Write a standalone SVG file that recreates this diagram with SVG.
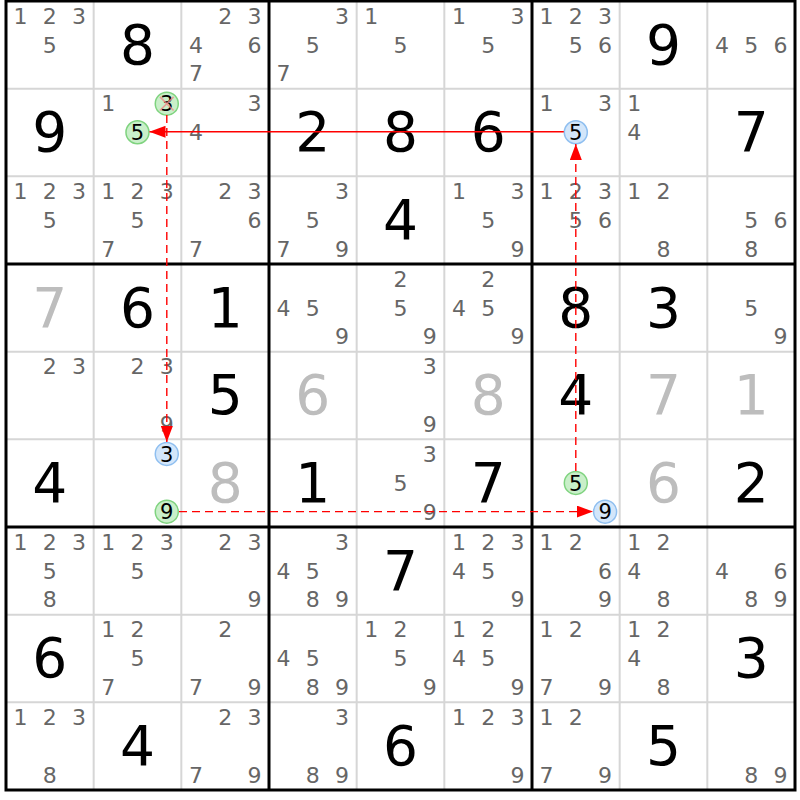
<svg xmlns="http://www.w3.org/2000/svg" width="800" height="800" viewBox="0 0 800 800">
<style>
text{font-family:"DejaVu Sans",Verdana,sans-serif;text-anchor:middle}
.c{font-size:22px;fill:#666}
.h{font-size:21px;fill:#000}
.g{font-size:55px;fill:#000}
.p{font-size:55px;fill:#bdbdbd}
.gc{fill:#c9efc9;stroke:#7fd37f;stroke-width:1.5}
.bc{fill:#d3e6fa;stroke:#8fbff0;stroke-width:1.5}
.thin{stroke:#d6d6d6;stroke-width:2}
.thick{stroke:#000;stroke-width:3;fill:none}
.ar{stroke:#f00;stroke-width:1.4;fill:none}
.da{stroke-dasharray:8,5}
</style>
<defs>
<marker id="ah" viewBox="0 0 16 12" markerUnits="userSpaceOnUse" markerWidth="16" markerHeight="12" refX="16" refY="6" orient="auto"><path d="M0,0 L16,6 L0,12 z" fill="#f00"/></marker>
</defs>
<rect x="0" y="0" width="800" height="800" fill="#fff"/>
<g id="grid">
<path class="thin" d="M93.67,1V790M181.33,1V790M356.67,1V790M444.33,1V790M619.67,1V790M707.33,1V790M6,88.67H795M6,176.33H795M6,351.67H795M6,439.33H795M6,614.67H795M6,702.33H795"/>
<path class="thick" d="M269,1V790M532,1V790M6,264H795M6,527H795"/>
<rect class="thick" x="6" y="1" width="789" height="789"/>
</g>
<g id="cells">
<!-- Row 1 -->
<g id="r1c1" transform="translate(6,1)"><text class="c" x="14.6" y="22.6">1</text><text class="c" x="43.8" y="22.6">2</text><text class="c" x="73.1" y="22.6">3</text><text class="c" x="43.8" y="51.5">5</text></g>
<g id="r1c2" transform="translate(93.67,1)"><text class="g" x="43.8" y="62.5">8</text></g>
<g id="r1c3" transform="translate(181.33,1)"><text class="c" x="43.8" y="22.6">2</text><text class="c" x="73.1" y="22.6">3</text><text class="c" x="14.6" y="51.5">4</text><text class="c" x="73.1" y="51.5">6</text><text class="c" x="14.6" y="80.3">7</text></g>
<g id="r1c4" transform="translate(269,1)"><text class="c" x="73.1" y="22.6">3</text><text class="c" x="43.8" y="51.5">5</text><text class="c" x="14.6" y="80.3">7</text></g>
<g id="r1c5" transform="translate(356.67,1)"><text class="c" x="14.6" y="22.6">1</text><text class="c" x="43.8" y="51.5">5</text></g>
<g id="r1c6" transform="translate(444.33,1)"><text class="c" x="14.6" y="22.6">1</text><text class="c" x="73.1" y="22.6">3</text><text class="c" x="43.8" y="51.5">5</text></g>
<g id="r1c7" transform="translate(532,1)"><text class="c" x="14.6" y="22.6">1</text><text class="c" x="43.8" y="22.6">2</text><text class="c" x="73.1" y="22.6">3</text><text class="c" x="43.8" y="51.5">5</text><text class="c" x="73.1" y="51.5">6</text></g>
<g id="r1c8" transform="translate(619.67,1)"><text class="g" x="43.8" y="62.5">9</text></g>
<g id="r1c9" transform="translate(707.33,1)"><text class="c" x="14.6" y="51.5">4</text><text class="c" x="43.8" y="51.5">5</text><text class="c" x="73.1" y="51.5">6</text></g>
<!-- Row 2 -->
<g id="r2c1" transform="translate(6,88.67)"><text class="g" x="43.8" y="62.5">9</text></g>
<g id="r2c2" transform="translate(93.67,88.67)"><text class="c" x="14.6" y="22.6">1</text><circle class="gc" cx="73.1" cy="15" r="11.5"/><text class="h" x="73.1" y="22.6">3</text><path d="M66.3,8.2L79.9,21.8M79.9,8.2L66.3,21.8" stroke="#f08a8a" stroke-width="1.6" opacity="0.8"/><circle class="gc" cx="43.8" cy="43.6" r="11.5"/><text class="h" x="43.8" y="51.3">5</text></g>
<g id="r2c3" transform="translate(181.33,88.67)"><text class="c" x="73.1" y="22.6">3</text><text class="c" x="14.6" y="51.5">4</text></g>
<g id="r2c4" transform="translate(269,88.67)"><text class="g" x="43.8" y="62.5">2</text></g>
<g id="r2c5" transform="translate(356.67,88.67)"><text class="g" x="43.8" y="62.5">8</text></g>
<g id="r2c6" transform="translate(444.33,88.67)"><text class="g" x="43.8" y="62.5">6</text></g>
<g id="r2c7" transform="translate(532,88.67)"><text class="c" x="14.6" y="22.6">1</text><text class="c" x="73.1" y="22.6">3</text><circle class="bc" cx="43.8" cy="43.6" r="11.5"/><text class="h" x="43.8" y="51.3">5</text></g>
<g id="r2c8" transform="translate(619.67,88.67)"><text class="c" x="14.6" y="22.6">1</text><text class="c" x="14.6" y="51.5">4</text></g>
<g id="r2c9" transform="translate(707.33,88.67)"><text class="g" x="43.8" y="62.5">7</text></g>
<!-- Row 3 -->
<g id="r3c1" transform="translate(6,176.33)"><text class="c" x="14.6" y="22.6">1</text><text class="c" x="43.8" y="22.6">2</text><text class="c" x="73.1" y="22.6">3</text><text class="c" x="43.8" y="51.5">5</text></g>
<g id="r3c2" transform="translate(93.67,176.33)"><text class="c" x="14.6" y="22.6">1</text><text class="c" x="43.8" y="22.6">2</text><text class="c" x="73.1" y="22.6">3</text><text class="c" x="43.8" y="51.5">5</text><text class="c" x="14.6" y="80.3">7</text></g>
<g id="r3c3" transform="translate(181.33,176.33)"><text class="c" x="43.8" y="22.6">2</text><text class="c" x="73.1" y="22.6">3</text><text class="c" x="73.1" y="51.5">6</text><text class="c" x="14.6" y="80.3">7</text></g>
<g id="r3c4" transform="translate(269,176.33)"><text class="c" x="73.1" y="22.6">3</text><text class="c" x="43.8" y="51.5">5</text><text class="c" x="14.6" y="80.3">7</text><text class="c" x="73.1" y="80.3">9</text></g>
<g id="r3c5" transform="translate(356.67,176.33)"><text class="g" x="43.8" y="62.5">4</text></g>
<g id="r3c6" transform="translate(444.33,176.33)"><text class="c" x="14.6" y="22.6">1</text><text class="c" x="73.1" y="22.6">3</text><text class="c" x="43.8" y="51.5">5</text><text class="c" x="73.1" y="80.3">9</text></g>
<g id="r3c7" transform="translate(532,176.33)"><text class="c" x="14.6" y="22.6">1</text><text class="c" x="43.8" y="22.6">2</text><text class="c" x="73.1" y="22.6">3</text><text class="c" x="43.8" y="51.5">5</text><text class="c" x="73.1" y="51.5">6</text></g>
<g id="r3c8" transform="translate(619.67,176.33)"><text class="c" x="14.6" y="22.6">1</text><text class="c" x="43.8" y="22.6">2</text><text class="c" x="43.8" y="80.3">8</text></g>
<g id="r3c9" transform="translate(707.33,176.33)"><text class="c" x="43.8" y="51.5">5</text><text class="c" x="73.1" y="51.5">6</text><text class="c" x="43.8" y="80.3">8</text></g>
<!-- Row 4 -->
<g id="r4c1" transform="translate(6,264)"><text class="p" x="43.8" y="62.5">7</text></g>
<g id="r4c2" transform="translate(93.67,264)"><text class="g" x="43.8" y="62.5">6</text></g>
<g id="r4c3" transform="translate(181.33,264)"><text class="g" x="43.8" y="62.5">1</text></g>
<g id="r4c4" transform="translate(269,264)"><text class="c" x="14.6" y="51.5">4</text><text class="c" x="43.8" y="51.5">5</text><text class="c" x="73.1" y="80.3">9</text></g>
<g id="r4c5" transform="translate(356.67,264)"><text class="c" x="43.8" y="22.6">2</text><text class="c" x="43.8" y="51.5">5</text><text class="c" x="73.1" y="80.3">9</text></g>
<g id="r4c6" transform="translate(444.33,264)"><text class="c" x="43.8" y="22.6">2</text><text class="c" x="14.6" y="51.5">4</text><text class="c" x="43.8" y="51.5">5</text><text class="c" x="73.1" y="80.3">9</text></g>
<g id="r4c7" transform="translate(532,264)"><text class="g" x="43.8" y="62.5">8</text></g>
<g id="r4c8" transform="translate(619.67,264)"><text class="g" x="43.8" y="62.5">3</text></g>
<g id="r4c9" transform="translate(707.33,264)"><text class="c" x="43.8" y="51.5">5</text><text class="c" x="73.1" y="80.3">9</text></g>
<!-- Row 5 -->
<g id="r5c1" transform="translate(6,351.67)"><text class="c" x="43.8" y="22.6">2</text><text class="c" x="73.1" y="22.6">3</text></g>
<g id="r5c2" transform="translate(93.67,351.67)"><text class="c" x="43.8" y="22.6">2</text><text class="c" x="73.1" y="22.6">3</text><text class="c" x="73.1" y="80.3">9</text></g>
<g id="r5c3" transform="translate(181.33,351.67)"><text class="g" x="43.8" y="62.5">5</text></g>
<g id="r5c4" transform="translate(269,351.67)"><text class="p" x="43.8" y="62.5">6</text></g>
<g id="r5c5" transform="translate(356.67,351.67)"><text class="c" x="73.1" y="22.6">3</text><text class="c" x="73.1" y="80.3">9</text></g>
<g id="r5c6" transform="translate(444.33,351.67)"><text class="p" x="43.8" y="62.5">8</text></g>
<g id="r5c7" transform="translate(532,351.67)"><text class="g" x="43.8" y="62.5">4</text></g>
<g id="r5c8" transform="translate(619.67,351.67)"><text class="p" x="43.8" y="62.5">7</text></g>
<g id="r5c9" transform="translate(707.33,351.67)"><text class="p" x="43.8" y="62.5">1</text></g>
<!-- Row 6 -->
<g id="r6c1" transform="translate(6,439.33)"><text class="g" x="43.8" y="62.5">4</text></g>
<g id="r6c2" transform="translate(93.67,439.33)"><circle class="bc" cx="73.1" cy="14.6" r="11.5"/><text class="h" x="73.1" y="22.2">3</text><circle class="gc" cx="73.1" cy="72.3" r="11.5"/><text class="h" x="73.1" y="79.9">9</text></g>
<g id="r6c3" transform="translate(181.33,439.33)"><text class="p" x="43.8" y="62.5">8</text></g>
<g id="r6c4" transform="translate(269,439.33)"><text class="g" x="43.8" y="62.5">1</text></g>
<g id="r6c5" transform="translate(356.67,439.33)"><text class="c" x="73.1" y="22.6">3</text><text class="c" x="43.8" y="51.5">5</text><text class="c" x="73.1" y="80.3">9</text></g>
<g id="r6c6" transform="translate(444.33,439.33)"><text class="g" x="43.8" y="62.5">7</text></g>
<g id="r6c7" transform="translate(532,439.33)"><circle class="gc" cx="43.8" cy="43.6" r="11.5"/><text class="h" x="43.8" y="51.3">5</text><circle class="bc" cx="73.1" cy="72.3" r="11.5"/><text class="h" x="73.1" y="79.9">9</text></g>
<g id="r6c8" transform="translate(619.67,439.33)"><text class="p" x="43.8" y="62.5">6</text></g>
<g id="r6c9" transform="translate(707.33,439.33)"><text class="g" x="43.8" y="62.5">2</text></g>
<!-- Row 7 -->
<g id="r7c1" transform="translate(6,527)"><text class="c" x="14.6" y="22.6">1</text><text class="c" x="43.8" y="22.6">2</text><text class="c" x="73.1" y="22.6">3</text><text class="c" x="43.8" y="51.5">5</text><text class="c" x="43.8" y="80.3">8</text></g>
<g id="r7c2" transform="translate(93.67,527)"><text class="c" x="14.6" y="22.6">1</text><text class="c" x="43.8" y="22.6">2</text><text class="c" x="73.1" y="22.6">3</text><text class="c" x="43.8" y="51.5">5</text></g>
<g id="r7c3" transform="translate(181.33,527)"><text class="c" x="43.8" y="22.6">2</text><text class="c" x="73.1" y="22.6">3</text><text class="c" x="73.1" y="80.3">9</text></g>
<g id="r7c4" transform="translate(269,527)"><text class="c" x="73.1" y="22.6">3</text><text class="c" x="14.6" y="51.5">4</text><text class="c" x="43.8" y="51.5">5</text><text class="c" x="43.8" y="80.3">8</text><text class="c" x="73.1" y="80.3">9</text></g>
<g id="r7c5" transform="translate(356.67,527)"><text class="g" x="43.8" y="62.5">7</text></g>
<g id="r7c6" transform="translate(444.33,527)"><text class="c" x="14.6" y="22.6">1</text><text class="c" x="43.8" y="22.6">2</text><text class="c" x="73.1" y="22.6">3</text><text class="c" x="14.6" y="51.5">4</text><text class="c" x="43.8" y="51.5">5</text><text class="c" x="73.1" y="80.3">9</text></g>
<g id="r7c7" transform="translate(532,527)"><text class="c" x="14.6" y="22.6">1</text><text class="c" x="43.8" y="22.6">2</text><text class="c" x="73.1" y="51.5">6</text><text class="c" x="73.1" y="80.3">9</text></g>
<g id="r7c8" transform="translate(619.67,527)"><text class="c" x="14.6" y="22.6">1</text><text class="c" x="43.8" y="22.6">2</text><text class="c" x="14.6" y="51.5">4</text><text class="c" x="43.8" y="80.3">8</text></g>
<g id="r7c9" transform="translate(707.33,527)"><text class="c" x="14.6" y="51.5">4</text><text class="c" x="73.1" y="51.5">6</text><text class="c" x="43.8" y="80.3">8</text><text class="c" x="73.1" y="80.3">9</text></g>
<!-- Row 8 -->
<g id="r8c1" transform="translate(6,614.67)"><text class="g" x="43.8" y="62.5">6</text></g>
<g id="r8c2" transform="translate(93.67,614.67)"><text class="c" x="14.6" y="22.6">1</text><text class="c" x="43.8" y="22.6">2</text><text class="c" x="43.8" y="51.5">5</text><text class="c" x="14.6" y="80.3">7</text></g>
<g id="r8c3" transform="translate(181.33,614.67)"><text class="c" x="43.8" y="22.6">2</text><text class="c" x="14.6" y="80.3">7</text><text class="c" x="73.1" y="80.3">9</text></g>
<g id="r8c4" transform="translate(269,614.67)"><text class="c" x="14.6" y="51.5">4</text><text class="c" x="43.8" y="51.5">5</text><text class="c" x="43.8" y="80.3">8</text><text class="c" x="73.1" y="80.3">9</text></g>
<g id="r8c5" transform="translate(356.67,614.67)"><text class="c" x="14.6" y="22.6">1</text><text class="c" x="43.8" y="22.6">2</text><text class="c" x="43.8" y="51.5">5</text><text class="c" x="73.1" y="80.3">9</text></g>
<g id="r8c6" transform="translate(444.33,614.67)"><text class="c" x="14.6" y="22.6">1</text><text class="c" x="43.8" y="22.6">2</text><text class="c" x="14.6" y="51.5">4</text><text class="c" x="43.8" y="51.5">5</text><text class="c" x="73.1" y="80.3">9</text></g>
<g id="r8c7" transform="translate(532,614.67)"><text class="c" x="14.6" y="22.6">1</text><text class="c" x="43.8" y="22.6">2</text><text class="c" x="14.6" y="80.3">7</text><text class="c" x="73.1" y="80.3">9</text></g>
<g id="r8c8" transform="translate(619.67,614.67)"><text class="c" x="14.6" y="22.6">1</text><text class="c" x="43.8" y="22.6">2</text><text class="c" x="14.6" y="51.5">4</text><text class="c" x="43.8" y="80.3">8</text></g>
<g id="r8c9" transform="translate(707.33,614.67)"><text class="g" x="43.8" y="62.5">3</text></g>
<!-- Row 9 -->
<g id="r9c1" transform="translate(6,702.33)"><text class="c" x="14.6" y="22.6">1</text><text class="c" x="43.8" y="22.6">2</text><text class="c" x="73.1" y="22.6">3</text><text class="c" x="43.8" y="80.3">8</text></g>
<g id="r9c2" transform="translate(93.67,702.33)"><text class="g" x="43.8" y="62.5">4</text></g>
<g id="r9c3" transform="translate(181.33,702.33)"><text class="c" x="43.8" y="22.6">2</text><text class="c" x="73.1" y="22.6">3</text><text class="c" x="14.6" y="80.3">7</text><text class="c" x="73.1" y="80.3">9</text></g>
<g id="r9c4" transform="translate(269,702.33)"><text class="c" x="73.1" y="22.6">3</text><text class="c" x="43.8" y="80.3">8</text><text class="c" x="73.1" y="80.3">9</text></g>
<g id="r9c5" transform="translate(356.67,702.33)"><text class="g" x="43.8" y="62.5">6</text></g>
<g id="r9c6" transform="translate(444.33,702.33)"><text class="c" x="14.6" y="22.6">1</text><text class="c" x="43.8" y="22.6">2</text><text class="c" x="73.1" y="22.6">3</text><text class="c" x="73.1" y="80.3">9</text></g>
<g id="r9c7" transform="translate(532,702.33)"><text class="c" x="14.6" y="22.6">1</text><text class="c" x="43.8" y="22.6">2</text><text class="c" x="14.6" y="80.3">7</text><text class="c" x="73.1" y="80.3">9</text></g>
<g id="r9c8" transform="translate(619.67,702.33)"><text class="g" x="43.8" y="62.5">5</text></g>
<g id="r9c9" transform="translate(707.33,702.33)"><text class="c" x="43.8" y="80.3">8</text><text class="c" x="73.1" y="80.3">9</text></g>
</g>
<g id="connectors">
<line class="ar" x1="563.8" y1="131.8" x2="149.5" y2="131.8" marker-end="url(#ah)"/>
<line class="ar da" x1="166.8" y1="115" x2="166.8" y2="442" marker-end="url(#ah)"/>
<line class="ar da" x1="179" y1="511.6" x2="593" y2="511.6" marker-end="url(#ah)"/>
<line class="ar da" x1="575.8" y1="471" x2="575.8" y2="144" marker-end="url(#ah)"/>
</g>
</svg>
